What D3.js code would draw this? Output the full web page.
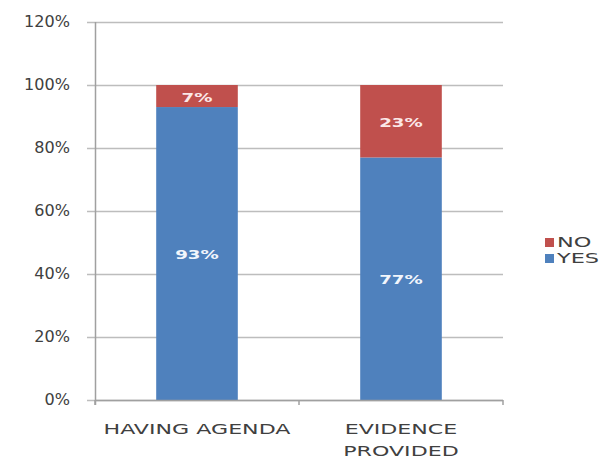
<!DOCTYPE html>
<html><head><meta charset="utf-8">
<script src="https://cdn.jsdelivr.net/npm/d3@7"></script>
<style>body{margin:0;background:#fff}svg{display:block}</style>
</head><body>
<svg id="c" width="606" height="460"></svg>
<script>
const categories = ["HAVING AGENDA", "EVIDENCE PROVIDED"];
const categoryLines = [["HAVING AGENDA"], ["EVIDENCE", "PROVIDED"]];
const seriesNames = ["YES", "NO"];
const yesValues = [93, 77];
const noValues = [7, 23];
const yTicks = [0, 20, 40, 60, 80, 100, 120];
const colors = {YES: "#4F81BD", NO: "#C0504D"};

(function () {
const svg = d3.select("#c");
const pLeft = 95, pRight = 503, pTop = 22, pBottom = 400;
const x = d3.scaleBand().domain(categories).range([pLeft, pRight]).paddingInner(0.6).paddingOuter(0.3);
const y = d3.scaleLinear().domain([0, 120]).range([pBottom, pTop]);
const font = "DejaVu Sans, Verdana, sans-serif";

function stretch(sel, k) {
  sel.each(function() {
    const w = this.getComputedTextLength();
    this.setAttribute("textLength", w * k);
    this.setAttribute("lengthAdjust", "spacingAndGlyphs");
  });
}

// gridlines
svg.append("g").selectAll("line").data(yTicks).join("line")
  .attr("x1", pLeft - 8).attr("x2", pRight)
  .attr("y1", d => Math.round(y(d)) + 0.5).attr("y2", d => Math.round(y(d)) + 0.5)
  .attr("stroke", "#BDBDBD").attr("stroke-width", 1.5);

// y axis line
svg.append("line").attr("x1", pLeft + 0.5).attr("x2", pLeft + 0.5)
  .attr("y1", pTop).attr("y2", pBottom + 5).attr("stroke", "#A0A0A0").attr("stroke-width", 1.5);

// y tick labels
svg.append("g").selectAll("text").data(yTicks).join("text")
  .attr("x", 70).attr("y", d => y(d)).attr("dy", "0.36em")
  .attr("text-anchor", "end").attr("font-family", font).attr("font-size", 15)
  .attr("fill", "#404040").text(d => d + "%").call(stretch, 1.07);

// stacked data
const rows = categories.map((c, i) => ({cat: c, YES: yesValues[i], NO: noValues[i]}));
const stack = d3.stack().keys(seriesNames)(rows);

const g = svg.append("g");
stack.forEach(layer => {
  g.append("g").selectAll("rect").data(layer).join("rect")
    .attr("x", d => x(d.data.cat)).attr("width", x.bandwidth())
    .attr("y", d => y(d[1])).attr("height", d => y(d[0]) - y(d[1]))
    .attr("fill", colors[layer.key]);
  g.append("g").selectAll("text").data(layer).join("text")
    .attr("x", d => x(d.data.cat) + x.bandwidth() / 2)
    .attr("y", d => (y(d[0]) + y(d[1])) / 2 + 1).attr("dy", "0.36em")
    .attr("text-anchor", "middle").attr("font-family", font).attr("font-weight", "bold")
    .attr("font-size", 13).attr("fill", layer.key === "NO" ? "#FBE8E8" : "#F2F6FC")
    .text(d => (d[1] - d[0]) + "%").call(stretch, 1.4);
});

// x axis
svg.append("line").attr("x1", pLeft).attr("x2", pRight)
  .attr("y1", pBottom + 0.5).attr("y2", pBottom + 0.5).attr("stroke", "#A0A0A0").attr("stroke-width", 1.5);
const xTickPos = [pLeft, (x(categories[0]) + x.bandwidth() + x(categories[1])) / 2, pRight];
svg.append("g").selectAll("line").data(xTickPos).join("line")
  .attr("x1", d => d).attr("x2", d => d).attr("y1", pBottom).attr("y2", pBottom + 5)
  .attr("stroke", "#A0A0A0").attr("stroke-width", 1.5);

// category labels
categories.forEach((c, i) => {
  categoryLines[i].forEach((line, j) => {
    svg.append("text").attr("x", x(c) + x.bandwidth() / 2).attr("y", 434 + j * 22)
      .attr("text-anchor", "middle").attr("font-family", font).attr("font-size", 14)
      .attr("fill", "#404040").text(line).call(stretch, 1.58);
  });
});

// legend
const legendItems = ["NO", "YES"];
const lg = svg.append("g").selectAll("g").data(legendItems).join("g")
  .attr("transform", (d, i) => `translate(545,${242 + i * 16})`);
lg.append("rect").attr("x", 0).attr("y", -4).attr("width", 9).attr("height", 9).attr("fill", d => colors[d]);
lg.append("text").attr("x", 12).attr("y", 0).attr("dy", "0.36em")
  .attr("font-family", font).attr("font-size", 14).attr("fill", "#404040")
  .text(d => d).call(stretch, 1.6);
})();
</script>
</body></html>
